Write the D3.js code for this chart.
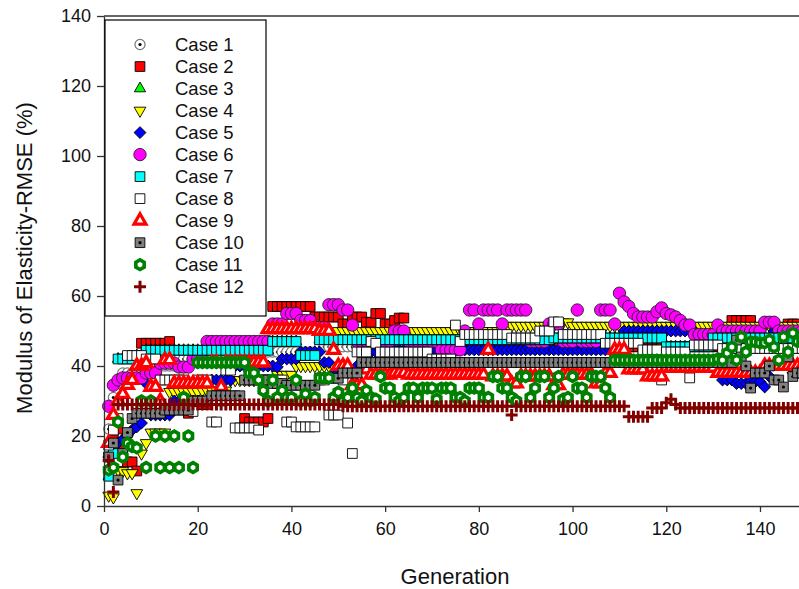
<!DOCTYPE html>
<html>
<head>
<meta charset="utf-8">
<script src="https://cdn.jsdelivr.net/npm/d3@7"></script>
<style>
  body { margin: 0; background: #fff; }
  svg { display: block; font-family: 'Liberation Sans', Arial, sans-serif; }
</style>
</head>
<body>
<svg id="chart"></svg>
<script>
const xTicks = [0, 20, 40, 60, 80, 100, 120, 140];
const yTicks = [0, 20, 40, 60, 80, 100, 120, 140];
const caseNames = ['Case 1', 'Case 2', 'Case 3', 'Case 4', 'Case 5', 'Case 6',
  'Case 7', 'Case 8', 'Case 9', 'Case 10', 'Case 11', 'Case 12'];

// best RMSE per generation, stored as [first gen, last gen, value %]
const case1 = [[1,1,22],[2,2,31],[3,3,35],[4,8,38],[9,15,40],[16,30,42],[31,45,44],[46,150,45.5]];
const case2 = [[1,1,14],[2,2,19],[3,3,22],[4,4,16],[5,6,12.6],[7,7,10],[8,13,46.5],[14,14,47],[15,17,28],
  [18,18,26.5],[19,22,29],[23,29,47],[30,30,25],[31,34,24],[35,35,25],[36,44,57],[45,50,54],[51,52,52],
  [53,55,54],[56,57,52.5],[58,59,55],[60,61,52],[62,62,53],[63,64,53.7],[65,133,45.5],[134,138,53],
  [139,145,46],[146,148,52],[149,150,46]];
const case3 = [[1,1,8.5],[2,2,15],[3,6,42],[7,8,43],[9,35,44.5],[36,41,47],[42,45,43],[46,95,47.5],
  [96,119,48],[120,129,45.5],[130,150,48]];
const case4 = [[1,1,3],[2,2,2.5],[3,3,10.3],[4,4,10],[5,6,9.4],[7,7,3.7],[8,8,15],[9,9,18],[10,13,21],
  [14,20,32.6],[21,26,33],[27,36,36],[37,40,37.5],[41,49,40],[50,85,50],[86,96,51.5],[97,99,52.5],[100,150,51.5]];
const case5 = [[1,1,14],[2,2,17.4],[3,3,18],[4,4,19],[5,5,20],[6,6,21.7],[7,7,22.6],[8,8,23.7],[9,9,35],
  [10,14,26],[15,22,30],[23,27,36],[28,36,40],[37,37,39.7],[38,41,42],[42,46,44],[47,48,41],[49,53,38],
  [54,55,40],[56,58,44],[59,110,44.6],[111,126,50],[127,131,47],[132,134,36],[135,137,35],[138,140,35.5],
  [141,141,34],[142,142,37],[143,146,50],[147,150,38]];
const case6 = [[1,1,28.5],[2,2,34.5],[3,3,36],[4,8,36.6],[9,11,38],[12,15,40.8],[16,18,39.7],[19,21,42],
  [22,35,47],[36,38,52],[39,41,55],[42,44,53],[45,47,51],[48,50,57.5],[51,52,56],[53,53,51.7],[54,61,47],
  [62,64,50],[65,71,47],[72,76,44.6],[77,77,50],[78,79,56],[80,80,52],[81,84,56],[85,85,52],[86,90,56],
  [91,94,47],[95,97,52],[98,100,47],[101,101,56],[102,105,47],[106,108,56],[109,109,52],[110,110,60.8],
  [111,111,58.3],[112,112,57],[113,113,55],[114,117,54],[118,118,55.5],[119,119,56.6],[120,120,55],
  [121,121,54.6],[122,122,54],[123,123,53],[124,125,51.7],[126,130,49],[131,131,51.7],[132,140,50],
  [141,143,52.5],[144,150,50]];
const case7 = [[1,1,8.5],[2,2,15],[3,6,42],[7,8,43],[9,35,44.5],[36,41,47],[42,45,43],[46,95,47.5],
  [96,119,48],[120,129,45.5],[130,150,48]];
const case8 = [[1,1,17.4],[2,2,21.7],[3,3,25],[4,4,30],[5,8,43],[9,11,42],[12,17,36],[18,18,30],[19,19,27],
  [20,22,36],[23,24,24],[25,25,30],[26,27,38.8],[28,32,22.3],[33,33,21.7],[34,38,36],[39,40,24],[41,45,22.6],
  [46,47,36],[48,50,26],[51,51,36],[52,52,23.7],[53,53,15],[54,56,44],[57,57,47],[58,58,46.5],[59,69,44],
  [70,74,42],[75,75,51.7],[76,76,47],[77,86,49],[87,92,48],[93,95,50],[96,97,52.6],[98,106,49],
  [107,114,46.5],[115,118,44.6],[119,119,36],[120,124,44],[125,125,36.6],[126,131,46],[132,150,45]];
const case9 = [[1,1,18],[2,2,26],[3,3,30],[4,4,32],[5,5,34.6],[6,6,36],[7,8,40],[9,9,40.8],[10,11,34],
  [12,12,30],[13,14,41.7],[15,22,35],[23,24,41],[25,25,34],[26,34,41],[35,45,50.5],[46,48,50],[49,49,44.6],
  [50,52,40],[53,55,34.5],[56,56,39],[57,61,37.5],[62,64,38],[65,81,37.5],[82,82,44.6],[83,86,37],
  [87,88,35],[89,95,37],[96,97,34.5],[98,104,37.5],[105,106,35],[107,108,38],[109,111,44.6],
  [112,115,39],[116,119,37],[120,130,39.5],[131,140,38],[141,150,40]];
const case10 = [[1,1,14],[2,2,18],[3,3,7.4],[4,4,15],[5,5,21],[6,6,25],[7,12,26.5],[13,18,27.4],[19,22,30],
  [23,29,31.5],[30,35,36],[36,38,35],[39,45,34.5],[46,50,36.5],[51,54,38],[55,134,41],[135,135,47.4],
  [136,136,42.6],[137,137,40],[138,138,33.7],[139,141,38],[142,142,40],[143,144,36],[145,145,34],
  [146,146,42.6],[147,147,37],[148,150,38]];
const case11 = [[1,1,10.3],[2,2,11],[3,3,24],[4,4,14],[5,5,18],[6,6,17],[7,7,16.6],[8,8,30],[9,9,11],
  [10,10,30],[11,11,20],[12,12,11],[13,13,20],[14,14,11],[15,15,20],[16,16,11],[17,17,31],[18,18,20],
  [19,19,11],[20,30,41],[31,32,38],[33,33,36],[34,34,33],[35,35,30],[36,36,36],[37,37,31],[38,38,33],
  [39,40,31],[41,41,36],[42,42,30],[43,43,32],[44,44,30],[45,45,31],[46,48,36.6],[49,49,31],[50,50,32.5],
  [51,51,30],[52,52,31],[53,53,33.7],[54,54,31],[55,55,30],[56,56,33],[57,57,31],[58,58,30.5],[59,59,37],
  [60,61,33.7],[62,62,31],[63,63,30],[64,64,31],[65,66,33.7],[67,67,31],[68,70,33.7],[71,71,30.5],
  [72,74,33.7],[75,76,31],[77,77,30],[78,80,33.7],[81,82,31],[83,84,37],[85,86,33.7],[87,87,31],[88,88,30],
  [89,90,37],[91,91,31],[92,92,33.7],[93,94,37],[95,95,31],[96,96,33.7],[97,97,37],[98,98,30.5],[99,99,31],
  [100,100,37],[101,102,33.7],[103,103,31],[104,106,37],[107,107,33.7],[108,108,31],[109,130,41.7],
  [131,131,42],[132,132,41.7],[133,133,43.7],[134,134,45.4],[135,135,41.7],[136,136,48.3],[137,137,44],
  [138,139,46.9],[140,141,46.6],[142,142,47.4],[143,143,45.4],[144,144,41.7],[145,145,48.3],[146,146,44],
  [147,147,49.4],[148,150,47]];
const case12 = [[1,1,13],[2,2,4],[3,50,29],[51,86,28.5],[87,87,26],[88,111,28.5],[112,116,25.5],
  [117,119,28],[120,120,29.5],[121,121,30.5],[122,122,29],[123,150,28]];

const width = 799;
const height = 589;

const svg = d3.select('#chart').attr('width', width).attr('height', height);

const x = d3.scaleLinear().domain([0, 140]).range([104, 760]);
const y = d3.scaleLinear().domain([0, 140]).range([506, 16]);

const expand = runs => runs.flatMap(([from, to, v]) => d3.range(from, to + 1).map(g => ({ g, v })));

// hexagon and plus are not among d3's filled symbols
const symbolHexagon = {
  draw(context, size) {
    const r = Math.sqrt(size / 2.598);
    for (let i = 0; i < 6; i++) {
      const a = Math.PI / 3 * i + Math.PI / 6;
      const px = r * Math.cos(a), py = r * Math.sin(a);
      if (i === 0) context.moveTo(px, py); else context.lineTo(px, py);
    }
    context.closePath();
  }
};
const symbolPlus = {
  draw(context, size) {
    const r = Math.sqrt(size) / 2;
    context.moveTo(-r, 0); context.lineTo(r, 0);
    context.moveTo(0, -r); context.lineTo(0, r);
  }
};

const styles = [
  { type: d3.symbolCircle, size: 80, fill: '#fff', stroke: '#777', sw: 1.2, dot: true },
  { type: d3.symbolSquare, size: 95, fill: '#ff0000', stroke: '#000', sw: 0.9 },
  { type: d3.symbolTriangle, size: 55, fill: '#00ff00', stroke: '#000', sw: 0.9 },
  { type: d3.symbolTriangle, size: 60, fill: '#ffff00', stroke: '#000', sw: 0.9, rotate: 180 },
  { type: d3.symbolSquare, size: 70, fill: '#0000ff', stroke: '#000', sw: 0.9, rotate: 45 },
  { type: d3.symbolCircle, size: 120, fill: '#ff00ff', stroke: '#222', sw: 0.9 },
  { type: d3.symbolSquare, size: 95, fill: '#00ffff', stroke: '#000', sw: 0.9 },
  { type: d3.symbolSquare, size: 95, fill: '#fff', stroke: '#000', sw: 0.9 },
  { type: d3.symbolTriangle, size: 62, fill: '#fff', stroke: '#ff0000', sw: 3.2 },
  { type: d3.symbolSquare, size: 95, fill: '#808080', stroke: '#000', sw: 0.9, dot: true },
  { type: symbolHexagon, size: 60, fill: '#fff', stroke: '#008000', sw: 3.6 },
  { type: symbolPlus, size: 144, fill: 'none', stroke: '#800000', sw: 3 }
];

const allCases = [case1, case2, case3, case4, case5, case6, case7, case8, case9, case10, case11, case12];
const series = allCases.map((runs, i) => ({ name: caseNames[i], style: styles[i], points: expand(runs) }));

const drawMarker = (g, s) => {
  g.append('path')
    .attr('d', d3.symbol().type(s.type).size(s.size)())
    .attr('transform', s.rotate ? `rotate(${s.rotate})` : null)
    .attr('fill', s.fill)
    .attr('stroke', s.stroke)
    .attr('stroke-width', s.sw);
  if (s.dot) g.append('circle').attr('r', 1.6).attr('fill', '#000');
};

// series drawn in legend order, so Case 12 ends up on top
series.forEach(sr => {
  svg.append('g')
    .selectAll('g')
    .data(sr.points)
    .join('g')
    .attr('transform', d => `translate(${x(d.g)},${y(d.v)})`)
    .each(function () { drawMarker(d3.select(this), sr.style); });
});

// axes
const axisColor = '#333';
const yAxis = svg.append('g')
  .attr('transform', `translate(${x(0)},0)`)
  .call(d3.axisLeft(y).tickValues(yTicks).tickSize(7).tickSizeOuter(0).tickPadding(6));
const xAxis = svg.append('g')
  .attr('transform', `translate(0,${y(0)})`)
  .call(d3.axisBottom(x).tickValues(xTicks).tickSize(6).tickSizeOuter(0).tickPadding(10));

[yAxis, xAxis].forEach(ax => {
  ax.select('.domain').attr('stroke', axisColor).attr('stroke-width', 1.3);
  ax.selectAll('.tick line').attr('stroke', axisColor).attr('stroke-width', 1.3);
  ax.selectAll('.tick text').attr('fill', '#111').style('font-size', '18px');
});
xAxis.select('.domain').attr('d', `M${x(0)},0.5H${width}`);

svg.append('line')
  .attr('x1', x(0)).attr('x2', width)
  .attr('y1', y(140)).attr('y2', y(140))
  .attr('stroke', axisColor).attr('stroke-width', 1.3);

svg.append('text')
  .attr('x', 455).attr('y', 584)
  .attr('text-anchor', 'middle')
  .style('font-size', '22px')
  .attr('fill', '#111')
  .text('Generation');

svg.append('text')
  .attr('transform', 'translate(32,258) rotate(-90)')
  .attr('text-anchor', 'middle')
  .style('font-size', '22px')
  .attr('fill', '#111')
  .text('Modulus of Elasticity-RMSE (%)');

// legend
const legend = svg.append('g');
legend.append('rect')
  .attr('x', 105).attr('y', 20)
  .attr('width', 161).attr('height', 296)
  .attr('fill', '#fff')
  .attr('stroke', '#000')
  .attr('stroke-width', 1.2);

series.forEach((sr, i) => {
  const row = legend.append('g').attr('transform', `translate(0,${44.5 + i * 22.02})`);
  drawMarker(row.append('g').attr('transform', 'translate(140,0)'), sr.style);
  row.append('text')
    .attr('x', 175).attr('y', 0).attr('dy', '0.35em')
    .style('font-size', '18.5px')
    .attr('fill', '#111')
    .text(sr.name);
});
</script>
</body>
</html>
